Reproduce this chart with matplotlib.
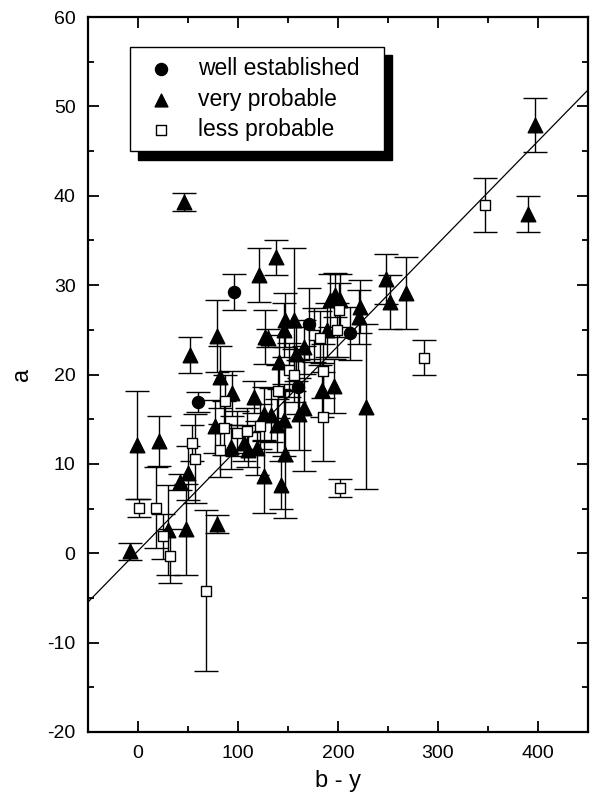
import matplotlib
matplotlib.use("Agg")
import matplotlib.pyplot as plt
from matplotlib.ticker import MultipleLocator
import numpy as np

plt.rcParams['font.family'] = ['Liberation Sans', 'DejaVu Sans']
plt.rcParams['axes.unicode_minus'] = False

# well established (circles)
we_x = [96, 59.6, 170.6, 212.3, 159.6]
we_y = [29.2, 16.9, 25.7, 24.6, 18.6]
we_e = [2.0, 1.1, 4.0, 3.0, 3.0]

# very probable (triangles)
vp_x = [-7.7, -1, 21.3, 29.6, 42.3, 50, 48.3, 46, 52.3, 79, 79, 82.3, 77.3, 93, 94,
        105.6, 110, 115.6, 119, 121.3, 138, 127.3, 130, 125.6, 133, 125.6, 139, 141.3,
        143, 145.6, 147, 145.6, 146.6, 155.6, 158.3, 160.6, 165.6, 165.6, 184, 189,
        192.3, 197.3, 202.3, 196.3, 220.6, 222.3, 227.6, 248, 252.3, 268, 389.6, 396.6]
vp_y = [0.2, 12.1, 12.6, 2.6, 8.0, 9.0, 2.7, 39.3, 22.2, 24.3, 3.3, 19.7, 14.2, 11.9, 17.9,
        12.3, 11.6, 17.5, 11.8, 31.1, 33.1, 24.2, 24.1, 15.6, 15.5, 8.6, 14.3, 21.4,
        7.6, 14.9, 11.1, 25.0, 26.1, 26.1, 22.3, 15.6, 16.2, 23.1, 18.3, 25.0,
        28.3, 28.9, 28.3, 18.7, 26.4, 27.6, 16.4, 30.7, 28.1, 29.1, 38.0, 47.9]
vp_e = [1.0, 6.0, 2.8, 5.0, 0.9, 3.0, 5.1, 1.0, 2.0, 4.0, 1.0, 3.5, 3.0, 2.5, 2.5,
        2.0, 2.0, 1.8, 3.0, 3.0, 2.0, 3.0, 1.0, 3.0, 3.0, 4.1, 3.0, 3.0,
        2.7, 4.0, 7.2, 3.0, 3.0, 8.0, 3.0, 4.0, 7.0, 3.0, 3.0, 3.0,
        3.0, 2.5, 3.0, 3.0, 3.0, 3.0, 9.2, 2.8, 3.0, 4.0, 2.0, 3.0]

# less probable (squares)
lp_x = [0.6, 18, 25, 32.3, 54, 56.6, 68, 81.6, 85.6, 86.6, 99, 109, 122.3, 139.6,
        151.3, 155.6, 175.6, 182.3, 185, 184.6, 199, 200.6, 201.6, 285.6, 346.6]
lp_y = [5.1, 5.1, 1.9, -0.3, 12.3, 10.6, -4.2, 11.5, 14.0, 17.0, 13.4, 13.7, 14.2, 18.1,
        20.5, 19.9, 24.4, 24.1, 20.4, 15.3, 25.0, 27.2, 7.3, 21.9, 38.95]
lp_e = [1.0, 4.5, 2.5, 3.0, 2.0, 5.0, 9.0, 3.0, 3.0, 3.0, 2.5, 2.5, 2.5, 3.0,
        3.0, 3.0, 3.0, 3.0, 3.0, 5.0, 3.0, 3.0, 1.0, 2.0, 3.0]

# regression line
fit_slope = 0.1146
fit_intercept = 0.27

fig = plt.figure(figsize=(5.92, 8.06), dpi=100)
ax = fig.add_axes([88/592, 74/806, 500/592, 715/806])

eb_kw = dict(fmt='none', ecolor='black', elinewidth=1.0, capsize=8.3, capthick=1.0, zorder=2)
ax.errorbar(vp_x, vp_y, yerr=vp_e, **eb_kw)
ax.errorbar(lp_x, lp_y, yerr=lp_e, **eb_kw)
ax.errorbar(we_x, we_y, yerr=we_e, **eb_kw)

xl = np.array([-50, 450])
ax.plot(xl, fit_intercept + fit_slope * xl, color='black', lw=0.9, zorder=3)

h1 = ax.scatter(we_x, we_y, marker='o', s=75, color='black', zorder=4, label='well established')
h2 = ax.scatter(vp_x, vp_y, marker='^', s=110, color='black', zorder=4, label='very probable')
h3 = ax.scatter(lp_x, lp_y, marker='s', s=60, facecolor='white', edgecolor='black',
                linewidths=1.0, zorder=5, label='less probable')

ax.set_xlim(-50, 450)
ax.set_ylim(-20, 60)
ax.xaxis.set_major_locator(MultipleLocator(100))
ax.xaxis.set_minor_locator(MultipleLocator(50))
ax.yaxis.set_major_locator(MultipleLocator(10))
ax.yaxis.set_minor_locator(MultipleLocator(5))
ax.tick_params(which='both', direction='in', top=True, right=True, width=1.3,
               labelsize=14, pad=9)
ax.tick_params(which='major', length=8)
ax.tick_params(which='minor', length=4.3)
for sp in ax.spines.values():
    sp.set_linewidth(1.6)

ax.set_xlabel('b - y', fontsize=17, labelpad=6)
ax.set_ylabel('a', fontsize=17, labelpad=10)

leg = ax.legend(handles=[h1, h2, h3], loc='upper left',
                bbox_to_anchor=(0.084, 0.814, 0.508, 0.144), mode='expand',
                borderaxespad=0,
                fontsize=16.5, frameon=True, fancybox=False, edgecolor='black',
                framealpha=1, borderpad=0.45, labelspacing=0.32, handletextpad=0.72,
                handlelength=1.78,
                shadow={'ox': 6, 'oy': -6, 'color': 'black', 'alpha': 1})
leg.get_frame().set_linewidth(1.0)
leg.legend_handles[0].set_sizes([75])
leg.legend_handles[1].set_sizes([85])
leg.legend_handles[2].set_sizes([55])

fig.savefig('out.png', dpi=100)
